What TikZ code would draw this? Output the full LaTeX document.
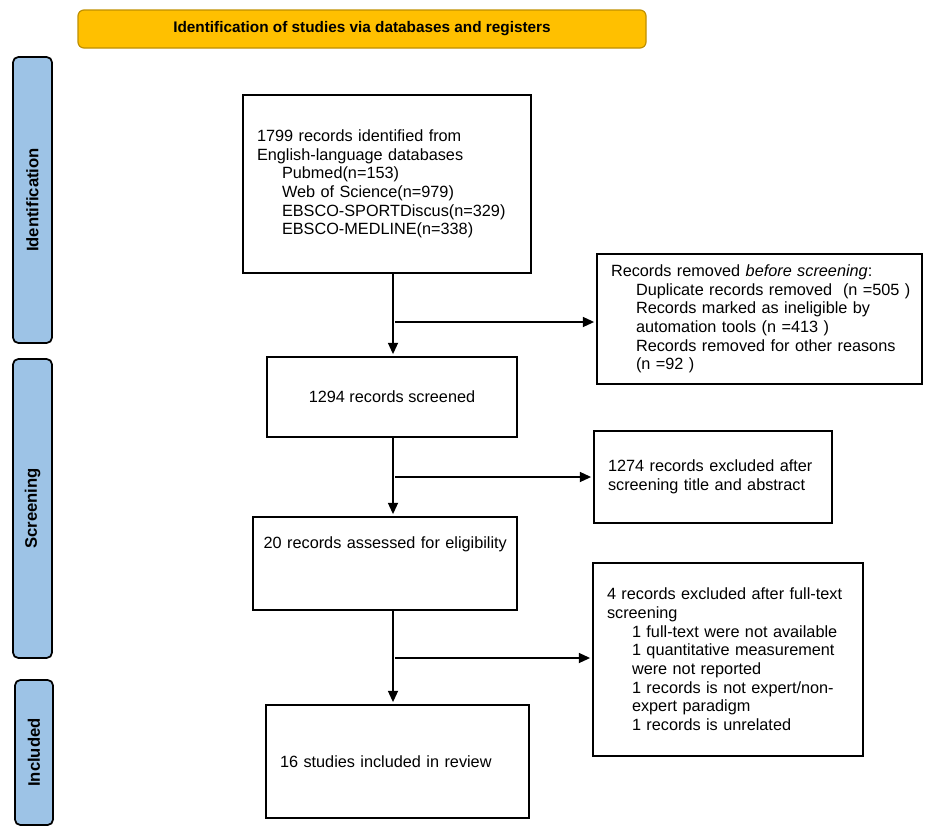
\documentclass[tikz,border=0pt]{standalone}
\usepackage{fontspec}
\setmainfont{Liberation Sans}
\usetikzlibrary{positioning,arrows.meta}
\definecolor{bannerGold}{HTML}{FFC000}
\definecolor{bannerEdge}{HTML}{C09000}
\definecolor{phaseBlue}{HTML}{9DC3E6}
\newcommand{\boxFont}{\fontsize{12.2}{14}\selectfont}
\newcommand{\subLine}[1]{\hspace*{18.75pt}\mbox{#1}}
\tikzstyle{banner}     = [draw=bannerEdge, fill=bannerGold, line width=0.9pt, rounded corners=4.5pt, font=\bfseries\fontsize{11.5}{13}\selectfont]
\tikzstyle{phaseBar}   = [draw=black, fill=phaseBlue, line width=1.3pt, rounded corners=4pt, rotate=90, font=\bfseries\fontsize{12.5}{14}\selectfont]
\tikzstyle{record}     = [draw, fill=white, line width=1.3pt, font=\boxFont]
\tikzstyle{recordList} = [record, align=left, inner xsep=10.5pt]
\tikzstyle{flow}       = [line width=1.3pt, -{Triangle[length=8.5pt,width=7.5pt]}, shorten >=1.5pt]
\begin{document}
\begin{tikzpicture}[x=0.75pt, y=-0.75pt]
			\useasboundingbox (0,0) rectangle (935,835);
			\node[banner, minimum width=426pt, minimum height=28.5pt] (title) at (362,29) {Identification of studies via databases and registers};
			\node[phaseBar, minimum width=214.5pt, minimum height=29.25pt] (idBar)     at (32.5,200)   {Identification};
			\node[phaseBar, minimum width=224.25pt, minimum height=29.25pt] (screenBar) at (32.5,508.5) {Screening};
			\node[phaseBar, minimum width=108.75pt, minimum height=28.5pt] (inclBar)   at (34,752.5)   {Included};
			\node[recordList, text width=195pt, minimum height=133.5pt] (identified) at (387,184)
				{1799 records identified from\\English-language databases\\\subLine{Pubmed(n=153)}\\\subLine{Web of Science(n=979)}\\\subLine{EBSCO-SPORTDiscus(n=329)}\\\subLine{EBSCO-MEDLINE(n=338)}};
			\node[recordList, text width=222.75pt, minimum height=97.5pt] (removed) at (759.5,319)
				{Records removed \textit{before screening}:\\\subLine{Duplicate records removed\ \ (n =505 )}\\\subLine{Records marked as ineligible by}\\\subLine{automation tools (n =413 )}\\\subLine{Records removed for other reasons}\\\subLine{(n =92 )}};
			\node[record, minimum width=187.5pt, minimum height=60pt] (screened) at (392,397) {1294 records screened};
			\node[recordList, text width=157.5pt, minimum height=69pt] (excludedTA) at (713,477)
				{1274 records excluded after\\screening title and abstract};
			\node[recordList, inner xsep=8pt, text width=182pt, text height=9pt, text depth=32pt, minimum height=69.75pt] (assessed) at (385,563.5)
				{\mbox{20 records assessed for eligibility}};
			\node[recordList, text width=181.5pt, minimum height=144.75pt] (excludedFT) at (728,659.5)
				{\mbox{4 records excluded after full-text}\\screening\\\subLine{1 full-text were not available}\\\subLine{1 quantitative measurement}\\\subLine{were not reported}\\\subLine{1 records is not expert/non-}\\\subLine{expert paradigm}\\\subLine{1 records is unrelated}};
			\node[recordList, text width=176.25pt, minimum height=84.75pt] (included) at (397.5,761.5) {16 studies included in review};
			\coordinate (spine)  at (393,0);
			\coordinate (split1) at (395,322);
			\coordinate (split2) at (395,477);
			\coordinate (split3) at (395,658);
			\draw[flow]    (identified.south -| spine) -- (screened.north -| spine);
			\draw[flow]    (split1) -- (split1 -| removed.west);
			\draw[flow]    (screened.south -| spine) -- (assessed.north -| spine);
			\draw[flow]    (split2) -- (split2 -| excludedTA.west);
			\draw[flow]    (assessed.south -| spine) -- (included.north -| spine);
			\draw[flow]    (split3) -- (split3 -| excludedFT.west);
		\end{tikzpicture}
\end{document}
